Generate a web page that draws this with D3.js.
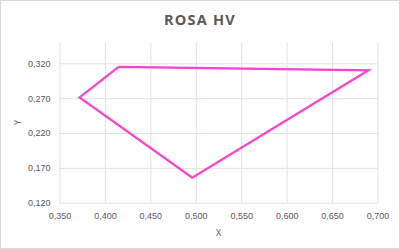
<!DOCTYPE html>
<html>
<head>
<meta charset="utf-8">
<style>
	body { margin: 0; background: #fff; }
	svg { display: block; font-family: "Open Sans", "Liberation Sans", sans-serif; }
	.grid line { stroke: #e4e0e2; stroke-width: 1px; }
	.tick text { fill: #595959; font-size: 9px; }
</style>
<script src="https://cdn.jsdelivr.net/npm/d3@7"></script>
</head>
<body>
<svg width="400" height="249"></svg>
<script>
	// pontos do poligono (X, Y) na ordem do desenho
	var pontosX = [0.415, 0.690, 0.496, 0.372, 0.415];
	var pontosY = [0.315, 0.310, 0.156, 0.271, 0.315];

	var ticksX = [0.35, 0.40, 0.45, 0.50, 0.55, 0.60, 0.65, 0.70];
	var ticksY = [0.12, 0.17, 0.22, 0.27, 0.32];

	var titulo = "ROSA HV";

	var svg = d3.select("svg"),
	    margin = {top: 42.4, right: 22.5, bottom: 46.3, left: 59.5},
	    width = +svg.attr("width") - margin.left - margin.right,
	    height = +svg.attr("height") - margin.top - margin.bottom;

	// borda do grafico
	svg.append("rect")
	    .attr("x", 0.5).attr("y", 0.5)
	    .attr("width", 399).attr("height", 248)
	    .attr("fill", "#fff")
	    .attr("stroke", "#d9d9d9");

	var g = svg.append("g").attr("transform", "translate(" + margin.left + "," + margin.top + ")");

	var x = d3.scaleLinear().domain([0.35, 0.70]).range([0, width]);
	var y = d3.scaleLinear().domain([0.12, 0.35]).range([height, 0]);

	var fmt = function(d) { return d3.format(".3f")(d).replace(".", ","); };

	g.append("g")
	    .attr("class", "grid")
	    .attr("transform", "translate(0," + height + ")")
	    .call(d3.axisBottom(x).tickValues(ticksX).tickSize(-height).tickFormat(fmt).tickPadding(10))
	    .call(function(a) { a.select(".domain").remove(); });

	g.append("g")
	    .attr("class", "grid")
	    .call(d3.axisLeft(y).tickValues(ticksY).tickSize(-width).tickFormat(fmt).tickPadding(9))
	    .call(function(a) { a.select(".domain").remove(); });

	var pontos = pontosX.map(function(d, i) { return [d, pontosY[i]]; });

	g.append("path")
	    .datum(pontos)
	    .attr("fill", "none")
	    .attr("stroke", "#ff3fd0")
	    .attr("stroke-width", 2.2)
	    .attr("stroke-linejoin", "miter")
	    .attr("d", d3.line().x(function(d) { return x(d[0]); }).y(function(d) { return y(d[1]); }));

	svg.append("text")
	    .attr("x", 200).attr("y", 25)
	    .attr("text-anchor", "middle")
	    .attr("font-size", 14.5)
	    .attr("font-weight", "bold")
	    .attr("letter-spacing", 1.2)
	    .attr("fill", "#595959")
	    .text(titulo);

	svg.append("text")
	    .attr("x", margin.left + width / 2).attr("y", 236)
	    .attr("text-anchor", "middle")
	    .attr("font-size", 9)
	    .attr("fill", "#595959")
	    .text("X");

	svg.append("text")
	    .attr("transform", "translate(21," + (margin.top + height / 2) + ") rotate(-90)")
	    .attr("text-anchor", "middle")
	    .attr("font-size", 9)
	    .attr("fill", "#595959")
	    .text("Y");
</script>
</body>
</html>
